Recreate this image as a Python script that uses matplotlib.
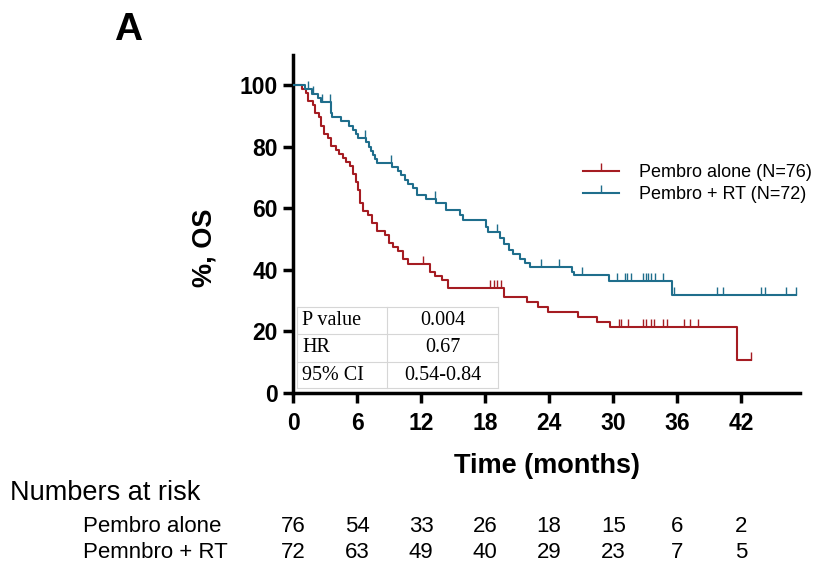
import matplotlib
matplotlib.use("Agg")
import matplotlib.pyplot as plt
import numpy as np
from matplotlib.lines import Line2D

plt.rcParams['font.family'] = ['Liberation Sans', 'DejaVu Sans']

# Kaplan-Meier steps (months, % alive after the step)
red_t = [0, 0.8, 1.2, 1.4, 1.9, 2.1, 2.4, 2.6, 2.9, 3.3, 3.6, 4.0, 4.3, 4.7, 5.0,
         5.3, 5.6, 5.9, 6.1, 6.3, 6.6, 7.0, 7.4, 7.9, 8.6, 9.0, 9.4, 9.8, 10.3,
         10.8, 12.8, 13.3, 14.0, 14.5, 19.8, 21.9, 23.0, 23.9, 26.7, 28.5, 29.7, 41.6]
red_s = [100, 98.7, 97.4, 94.7, 93.4, 90.8, 89.5, 86.8, 84.2, 82.9, 80.3, 79.0,
         77.6, 76.3, 75.0, 73.7, 71.0, 68.4, 65.8, 61.8, 59.2, 57.9, 55.3, 52.6,
         51.3, 48.7, 47.4, 46.1, 43.4, 41.8, 39.4, 38.1, 36.8, 34.0, 31.0, 29.4,
         27.8, 26.3, 24.7, 23.0, 21.4, 10.7]
red_end = 42.9
red_cens = [12.2, 18.5, 18.8, 19.1, 19.5, 30.5, 30.7, 31.4, 32.8, 33.1, 33.5,
            33.8, 34.7, 35.0, 36.6, 37.2, 37.9, 42.9]

blue_t = [0, 1.1, 1.8, 2.3, 2.6, 3.6, 3.7, 4.5, 5.2, 5.6, 5.9, 6.1, 6.8, 7.1,
          7.3, 7.5, 7.7, 7.9, 9.3, 9.8, 10.1, 10.5, 10.8, 11.2, 11.6, 12.5, 13.4,
          14.3, 15.6, 15.9, 18.1, 18.3, 19.4, 19.8, 20.2, 20.6, 21.3, 21.7, 22.2,
          26.1, 26.3, 29.6, 35.5]
blue_s = [100, 98.6, 97.2, 95.8, 94.6, 91.0, 89.6, 88.2, 86.8, 85.4, 84.0, 82.8,
          81.4, 80.0, 78.6, 77.2, 76.0, 74.8, 73.4, 72.0, 70.6, 69.2, 67.8, 66.4,
          64.3, 63.0, 61.6, 59.4, 57.8, 56.2, 54.0, 52.4, 50.3, 48.2, 46.4, 45.2,
          43.5, 42.3, 41.0, 39.4, 38.2, 36.4, 31.9]
blue_end = 47.1
blue_cens = [1.4, 1.9, 2.7, 3.5, 6.7, 9.2, 13.3, 19.1, 23.2, 24.9, 27.1, 30.4,
             31.1, 31.3, 31.7, 32.8, 33.1, 33.3, 33.5, 33.9, 34.7, 35.65, 39.7,
             40.3, 43.8, 44.2, 46.2, 47.1]

labels = ['Pembro alone (N=76)', 'Pembro + RT (N=72)']
risk_names = ['Pembro alone', 'Pemnbro + RT']
risk_times = [0, 6, 12, 18, 24, 30, 36, 42]
risk_red = [76, 54, 33, 26, 18, 15, 6, 2]
risk_blue = [72, 63, 49, 40, 29, 23, 7, 5]

stats_rows = [['P value', '0.004'], ['HR', '0.67'], ['95% CI', '0.54-0.84']]

red = '#A51C22'
blue = '#1F6E8C'

fig = plt.figure(figsize=(8.35, 5.66), dpi=100)
ax = fig.add_axes([293 / 835, 1 - 393 / 566, 507 / 835, 338 / 566])


def km(ax, t, s, end, cens, color):
    tt = list(t) + [end]
    ss = list(s) + [s[-1]]
    ax.step(tt, ss, where='post', color=color, lw=1.5, zorder=3)
    idx = np.searchsorted(np.array(t), np.array(cens), side='right') - 1
    ax.plot(cens, np.array(s)[idx], ls='none', marker=2, ms=6, mew=1.0,
            color=color, zorder=3)


km(ax, red_t, red_s, red_end, red_cens, red)
km(ax, blue_t, blue_s, blue_end, blue_cens, blue)

ax.set_xlim(0, 47.5)
ax.set_ylim(0, 109.7)
ax.set_xticks(risk_times)
ax.set_yticks([0, 20, 40, 60, 80, 100])
for sp in ['top', 'right']:
    ax.spines[sp].set_visible(False)
for sp in ['left', 'bottom']:
    ax.spines[sp].set_linewidth(2.5)
ax.tick_params(width=2.5, length=7, direction='out', labelsize=16.5)
ax.tick_params(axis='x', pad=7)
ax.tick_params(axis='y', pad=4)
for lab in ax.get_xticklabels() + ax.get_yticklabels():
    lab.set_fontweight('bold')

fig.text(205 / 835, 1 - 248 / 566, '%, OS', rotation=90, fontsize=19.5,
         fontweight='bold', ha='center', va='center')
fig.text(547 / 835, 1 - 466 / 566, 'Time (months)', fontsize=19.5,
         fontweight='bold', ha='center', va='center')
fig.text(128 / 835, 1 - 30 / 566, 'A', fontsize=28, fontweight='bold',
         ha='center', va='center')

handles = [Line2D([0], [0], color=red, lw=1.5, marker=2, ms=6, mew=1.0),
           Line2D([0], [0], color=blue, lw=1.5, marker=2, ms=6, mew=1.0)]
fig.legend(handles, labels, loc='upper left',
           bbox_to_anchor=(583 / 835, 1 - 164 / 566), frameon=False,
           fontsize=13, handlelength=2.0, handletextpad=1.1,
           labelspacing=0.3, borderpad=0, borderaxespad=0, numpoints=1)

# stats table inside the axes
x0, xm, x1 = 297, 387, 498
ys = [307, 334, 362, 388]
gc = '#d6d6d6'
for y in ys:
    fig.add_artist(Line2D([x0 / 835, x1 / 835], [1 - y / 566] * 2, color=gc, lw=0.8))
for x in [x0, xm, x1]:
    fig.add_artist(Line2D([x / 835] * 2, [1 - ys[0] / 566, 1 - ys[-1] / 566],
                          color=gc, lw=0.8))
for i, (k, v) in enumerate(stats_rows):
    yc = (ys[i] + ys[i + 1]) / 2
    fig.text((x0 + 5) / 835, 1 - yc / 566, k, family='Liberation Serif',
             fontsize=14.5, ha='left', va='center')
    fig.text((xm + x1) / 2 / 835, 1 - yc / 566, v, family='Liberation Serif',
             fontsize=14.5, ha='center', va='center')

# numbers at risk
fig.text(10 / 835, 1 - 493 / 566, 'Numbers at risk', fontsize=19.5,
         ha='left', va='center')
for name, vals, y in [(risk_names[0], risk_red, 527), (risk_names[1], risk_blue, 553)]:
    fig.text(83 / 835, 1 - y / 566, name, fontsize=16, ha='left', va='center')
    for tm, v in zip(risk_times, vals):
        xp = ax.transData.transform((tm, 0))[0]
        fig.text(xp / 835, 1 - y / 566, str(v), fontsize=16, ha='center',
                 va='center')

fig.savefig('out.png', dpi=100)
